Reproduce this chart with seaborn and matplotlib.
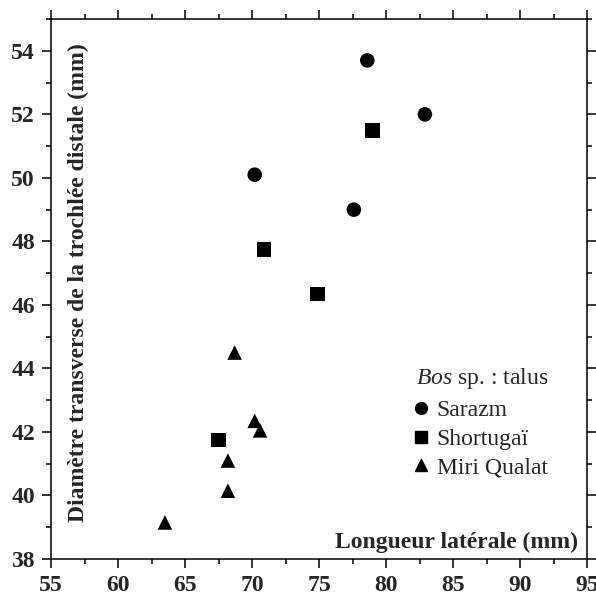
import pandas as pd
import matplotlib.pyplot as plt
import seaborn as sns
from matplotlib.ticker import MultipleLocator
from matplotlib.lines import Line2D

# -----------------------------
# Data
# -----------------------------
sarazm_x = [78.6, 82.9, 70.2, 77.6]
sarazm_y = [53.7, 52.0, 50.1, 49.0]

shortugai_x = [79.0, 70.9, 74.9, 67.5]
shortugai_y = [51.5, 47.75, 46.35, 41.75]

miri_x = [68.7, 70.2, 70.6, 68.2, 68.2, 63.5]
miri_y = [44.5, 42.35, 42.05, 41.1, 40.15, 39.15]

groups = ["Sarazm", "Shortugaï", "Miri Qualat"]

df = pd.concat([
    pd.DataFrame({"x": sarazm_x, "y": sarazm_y, "site": groups[0]}),
    pd.DataFrame({"x": shortugai_x, "y": shortugai_y, "site": groups[1]}),
    pd.DataFrame({"x": miri_x, "y": miri_y, "site": groups[2]}),
], ignore_index=True)

markers = {"Sarazm": "o", "Shortugaï": "s", "Miri Qualat": "^"}

# -----------------------------
# Style
# -----------------------------
sns.set_theme(style="ticks")
plt.rcParams["font.family"] = ["Liberation Serif", "DejaVu Serif"]
plt.rcParams["mathtext.fontset"] = "custom"
plt.rcParams["mathtext.it"] = "Liberation Serif:italic"
plt.rcParams["mathtext.rm"] = "Liberation Serif"

fig = plt.figure(figsize=(5.96, 5.97), dpi=100)
ax = fig.add_axes([0.0856, 0.0637, 0.8994, 0.9043])

sns.scatterplot(
    data=df, x="x", y="y", style="site", markers=markers,
    color="black", s=110, edgecolor="none", linewidth=0,
    legend=False, ax=ax,
)

ax.set_xlim(55, 95)
ax.set_ylim(38, 55)

ax.xaxis.set_major_locator(MultipleLocator(5))
ax.xaxis.set_minor_locator(MultipleLocator(2.5))
ax.yaxis.set_major_locator(MultipleLocator(2))
ax.yaxis.set_minor_locator(MultipleLocator(1))

ax.tick_params(which="both", direction="out", top=True, right=True,
               color="black", width=1.1)
ax.tick_params(which="major", length=6.5, pad=5)
ax.tick_params(which="minor", length=3.5)
for lab in ax.get_xticklabels() + ax.get_yticklabels():
    lab.set_fontweight("bold")
    lab.set_fontsize(17)

for sp in ax.spines.values():
    sp.set_linewidth(1.1)
    sp.set_color("black")

ax.set_xlabel("")
ax.set_ylabel("")

# axis labels drawn inside the frame
ax.text(0.983, 0.011, "Longueur latérale (mm)", transform=ax.transAxes,
        ha="right", va="bottom", fontsize=17, fontweight="bold")
ax.text(0.052, 0.512, "Diamètre transverse de la trochlée distale (mm)",
        transform=ax.transAxes, rotation=90, ha="center", va="center",
        fontsize=17, fontweight="bold")

# -----------------------------
# Legend
# -----------------------------
ax.text(0.681, 0.335, "$\\mathit{Bos}$ sp. : talus", transform=ax.transAxes,
        ha="left", va="center", fontsize=17)
handles = [Line2D([], [], linestyle="none", marker=markers[g], color="black",
                  markersize=8.5) for g in groups]
leg = ax.legend(handles, groups,
                loc="center left", bbox_to_anchor=(0.651, 0.222),
                frameon=False, fontsize=17,
                handletextpad=0.15, handlelength=1.0, labelspacing=0.3,
                borderaxespad=0)

plt.savefig("out.png", dpi=100)
